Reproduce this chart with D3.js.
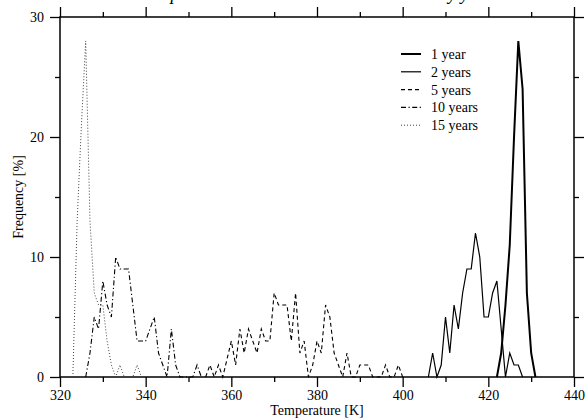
<!DOCTYPE html>
<html>
<head>
<meta charset="utf-8">
<script src="https://cdn.jsdelivr.net/npm/d3@7"></script>
<style>
  html, body { margin: 0; padding: 0; background: #fff; }
  svg { display: block; }
  text { font-family: "Liberation Serif", "DejaVu Serif", serif; fill: #000; }
</style>
</head>
<body>
<svg id="chart" width="586" height="420"></svg>
<script>
// ---- data ----
const title = "Temperature distribution in the canisters by year";
const xLabel = "Temperature [K]";
const yLabel = "Frequency [%]";
const seriesNames = ["1 year", "2 years", "5 years", "10 years", "15 years"];

const temps1 = [422, 423, 424, 425, 426, 427, 428, 429, 430, 431];
const freq1  = [0,   2,   6,   11,  20,  28,  24,  7,   2,   0];

const temps2 = [406, 407, 408, 409, 410, 411, 412, 413, 414, 415, 416, 417, 418, 419, 420, 421, 422, 423, 424, 425, 426, 427, 428];
const freq2  = [0,   2,   0,   1,   5,   2,   6,   4,   7,   9,   9,   12,  10,  5,   5,   7,   8,   4,   0,   2,   1,   1,   0];

const temps5 = [354, 355, 356, 357, 358, 360, 361, 362, 363, 364, 365, 366, 367, 368, 369, 370, 371, 372, 373, 374, 375, 376, 377, 378, 379, 380, 381, 382, 383, 384, 385, 386, 387, 388, 389, 390, 391, 392, 393, 394, 395, 396, 397, 398, 399, 400];
const freq5  = [0,   1,   0,   1,   0,   3,   1,   4,   2,   4,   3,   2,   4,   3,   3,   7,   6,   6,   6,   3,   7,   2,   3,   0,   1,   3,   2,   6,   5,   2,   1,   0,   2,   0,   0,   1,   1,   1,   0,   0,   0,   1,   0,   0,   1,   0];

const temps10 = [326, 327, 328, 329, 330, 331, 332, 333, 334, 335, 336, 337, 338, 339, 340, 341, 342, 343, 344, 345, 346, 347, 348, 349, 350, 351, 352, 353];
const freq10  = [0,   2,   5,   4,   8,   6,   5,   10,  9,   9,   9,   6,   3,   3,   3,   4,   5,   2,   1,   0,   4,   1,   0,   0,   0,   0,   1,   0];

const temps15 = [323, 324, 325, 326, 327, 328, 329, 330, 331, 332, 333, 334, 335, 336, 337, 338, 339];
const freq15  = [0,   13,  21,  28,  13,  7,   6,   6,   3,   1,   0,   1,   0,   0,   0,   1,   0];

const xMajorTicks = [320, 340, 360, 380, 400, 420, 440];
const xMinorTicks = [330, 350, 370, 390, 410, 430];
const yMajorTicks = [0, 10, 20, 30];
const yMinorTicks = [5, 15, 25];

// ---- chart ----
const svg = d3.select("#chart");
const L = 60, R = 574, T = 17, B = 377;
const x = d3.scaleLinear().domain([320, 440]).range([L, R]);
const y = d3.scaleLinear().domain([0, 30]).range([B, T]);

const series = [
  { name: seriesNames[0], t: temps1,  v: freq1,  width: 2.0, dash: null,        color: "#000" },
  { name: seriesNames[1], t: temps2,  v: freq2,  width: 1.2, dash: null,        color: "#000" },
  { name: seriesNames[2], t: temps5,  v: freq5,  width: 1.1, dash: "4,3",       color: "#000" },
  { name: seriesNames[3], t: temps10, v: freq10, width: 1.1, dash: "5,2.5,1.2,2.5", color: "#000" },
  { name: seriesNames[4], t: temps15, v: freq15, width: 1.0, dash: "1,2",       color: "#444" }
];

// title (clipped at top like the reference)
svg.append("text")
  .attr("x", (L + R) / 2).attr("y", 0)
  .attr("text-anchor", "middle")
  .style("font-size", "18px").style("font-style", "italic")
  .text(title);

function styleAxis(g) {
  g.select(".domain").remove();
  g.selectAll(".tick line").attr("stroke", "#000").attr("stroke-width", 1.3);
  g.selectAll(".tick text").style("font-size", "14px").style("font-family", "'Liberation Serif', serif");
}

// bottom axis
svg.append("g").attr("transform", `translate(0,${B})`)
  .call(d3.axisBottom(x).tickValues(xMajorTicks).tickSize(10).tickPadding(3).tickFormat(d3.format("d")))
  .call(styleAxis);
svg.append("g").attr("transform", `translate(0,${B})`)
  .call(d3.axisBottom(x).tickValues(xMinorTicks).tickSize(5).tickFormat(""))
  .call(styleAxis);
// top axis
svg.append("g").attr("transform", `translate(0,${T})`)
  .call(d3.axisTop(x).tickValues(xMajorTicks).tickSize(10).tickFormat(""))
  .call(styleAxis);
svg.append("g").attr("transform", `translate(0,${T})`)
  .call(d3.axisTop(x).tickValues(xMinorTicks).tickSize(5).tickFormat(""))
  .call(styleAxis);
// left axis
svg.append("g").attr("transform", `translate(${L},0)`)
  .call(d3.axisLeft(y).tickValues(yMajorTicks).tickSize(10).tickPadding(6).tickFormat(d3.format("d")))
  .call(styleAxis);
svg.append("g").attr("transform", `translate(${L},0)`)
  .call(d3.axisLeft(y).tickValues(yMinorTicks).tickSize(5).tickFormat(""))
  .call(styleAxis);
// right axis
svg.append("g").attr("transform", `translate(${R},0)`)
  .call(d3.axisRight(y).tickValues(yMajorTicks).tickSize(10).tickFormat(""))
  .call(styleAxis);
svg.append("g").attr("transform", `translate(${R},0)`)
  .call(d3.axisRight(y).tickValues(yMinorTicks).tickSize(5).tickFormat(""))
  .call(styleAxis);

// frame
svg.append("rect")
  .attr("x", L).attr("y", T).attr("width", R - L).attr("height", B - T)
  .attr("fill", "none").attr("stroke", "#000").attr("stroke-width", 1.5);

// axis titles
svg.append("text")
  .attr("x", (L + R) / 2).attr("y", 415)
  .attr("text-anchor", "middle").style("font-size", "14px")
  .text(xLabel);
svg.append("text")
  .attr("transform", `translate(23,${(T + B) / 2}) rotate(-90)`)
  .attr("text-anchor", "middle").style("font-size", "14px")
  .text(yLabel);

// lines
const line = d3.line().x(d => x(d[0])).y(d => y(d[1]));
series.forEach(s => {
  const pts = s.t.map((t, i) => [t, s.v[i]]);
  svg.append("path")
    .datum(pts)
    .attr("d", line)
    .attr("fill", "none")
    .attr("stroke", s.color)
    .attr("stroke-width", s.width)
    .attr("stroke-linejoin", "miter")
    .attr("stroke-dasharray", s.dash);
});

// legend
const lg = svg.append("g");
series.forEach((s, i) => {
  const cy = 54 + i * 17.8;
  lg.append("line")
    .attr("x1", 401).attr("x2", 421).attr("y1", cy).attr("y2", cy)
    .attr("stroke", s.color).attr("stroke-width", s.width)
    .attr("stroke-dasharray", s.dash);
  lg.append("text")
    .attr("x", 431).attr("y", cy + 5)
    .style("font-size", "14px")
    .text(s.name);
});
</script>
</body>
</html>
